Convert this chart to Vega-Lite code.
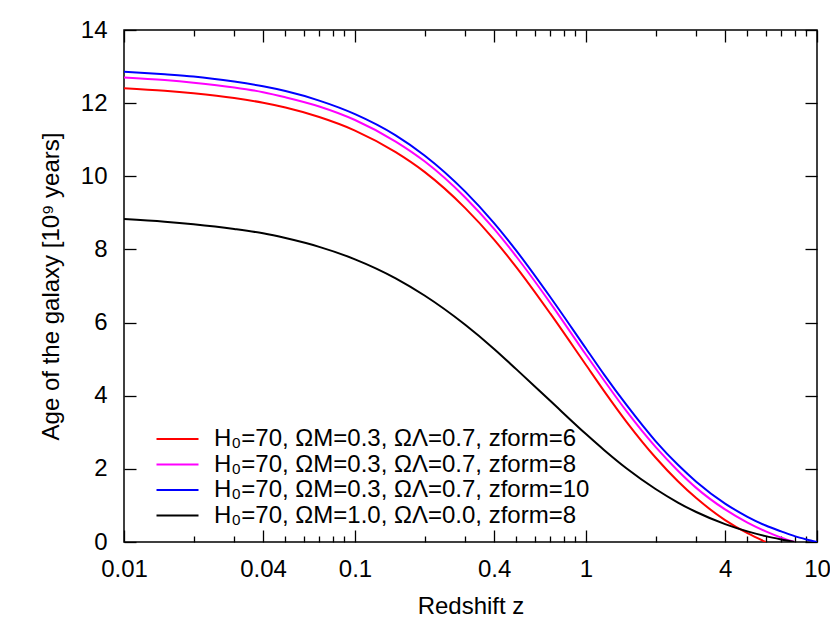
{
  "$schema": "https://vega.github.io/schema/vega-lite/v6.json",
  "width": 693,
  "height": 512,
  "autosize": {"type": "none"},
  "padding": {"left": 124, "top": 30, "right": 13, "bottom": 83},
  "background": "white",
  "datasets": {
    "d": [
      {"z":0.01,"a":12.41,"s":"6"},{"z":0.015,"a":12.34,"s":"6"},{"z":0.02,"a":12.27,"s":"6"},{"z":0.03,"a":12.14,"s":"6"},{"z":0.04,"a":12.01,"s":"6"},{"z":0.05,"a":11.88,"s":"6"},{"z":0.07,"a":11.62,"s":"6"},{"z":0.1,"a":11.25,"s":"6"},{"z":0.15,"a":10.66,"s":"6"},{"z":0.2,"a":10.12,"s":"6"},{"z":0.3,"a":9.13,"s":"6"},{"z":0.4,"a":8.27,"s":"6"},{"z":0.5,"a":7.51,"s":"6"},{"z":0.7,"a":6.25,"s":"6"},{"z":1,"a":4.84,"s":"6"},{"z":1.2,"a":4.12,"s":"6"},{"z":1.5,"a":3.28,"s":"6"},{"z":2,"a":2.31,"s":"6"},{"z":2.5,"a":1.66,"s":"6"},{"z":3,"a":1.20,"s":"6"},{"z":4,"a":0.60,"s":"6"},{"z":5,"a":0.24,"s":"6"},{"z":6,"a":0,"s":"6"},
      {"z":0.01,"a":12.70,"s":"8"},{"z":0.015,"a":12.63,"s":"8"},{"z":0.02,"a":12.56,"s":"8"},{"z":0.03,"a":12.43,"s":"8"},{"z":0.04,"a":12.30,"s":"8"},{"z":0.05,"a":12.16,"s":"8"},{"z":0.07,"a":11.91,"s":"8"},{"z":0.1,"a":11.54,"s":"8"},{"z":0.15,"a":10.95,"s":"8"},{"z":0.2,"a":10.41,"s":"8"},{"z":0.3,"a":9.42,"s":"8"},{"z":0.4,"a":8.56,"s":"8"},{"z":0.5,"a":7.80,"s":"8"},{"z":0.7,"a":6.54,"s":"8"},{"z":1,"a":5.12,"s":"8"},{"z":1.2,"a":4.41,"s":"8"},{"z":1.5,"a":3.57,"s":"8"},{"z":2,"a":2.60,"s":"8"},{"z":2.5,"a":1.95,"s":"8"},{"z":3,"a":1.48,"s":"8"},{"z":4,"a":0.89,"s":"8"},{"z":5,"a":0.53,"s":"8"},{"z":6,"a":0.29,"s":"8"},{"z":7,"a":0.12,"s":"8"},{"z":8,"a":0,"s":"8"},
      {"z":0.01,"a":12.86,"s":"10"},{"z":0.015,"a":12.79,"s":"10"},{"z":0.02,"a":12.73,"s":"10"},{"z":0.03,"a":12.59,"s":"10"},{"z":0.04,"a":12.46,"s":"10"},{"z":0.05,"a":12.33,"s":"10"},{"z":0.07,"a":12.07,"s":"10"},{"z":0.1,"a":11.70,"s":"10"},{"z":0.15,"a":11.12,"s":"10"},{"z":0.2,"a":10.57,"s":"10"},{"z":0.3,"a":9.58,"s":"10"},{"z":0.4,"a":8.72,"s":"10"},{"z":0.5,"a":7.96,"s":"10"},{"z":0.7,"a":6.70,"s":"10"},{"z":1,"a":5.29,"s":"10"},{"z":1.2,"a":4.57,"s":"10"},{"z":1.5,"a":3.74,"s":"10"},{"z":2,"a":2.76,"s":"10"},{"z":2.5,"a":2.11,"s":"10"},{"z":3,"a":1.65,"s":"10"},{"z":4,"a":1.05,"s":"10"},{"z":5,"a":0.69,"s":"10"},{"z":6,"a":0.45,"s":"10"},{"z":7,"a":0.29,"s":"10"},{"z":8,"a":0.16,"s":"10"},{"z":9,"a":0.07,"s":"10"},{"z":10,"a":0,"s":"10"},
      {"z":0.01,"a":8.83,"s":"EdS"},{"z":0.015,"a":8.76,"s":"EdS"},{"z":0.02,"a":8.69,"s":"EdS"},{"z":0.03,"a":8.56,"s":"EdS"},{"z":0.04,"a":8.44,"s":"EdS"},{"z":0.05,"a":8.31,"s":"EdS"},{"z":0.07,"a":8.07,"s":"EdS"},{"z":0.1,"a":7.73,"s":"EdS"},{"z":0.15,"a":7.21,"s":"EdS"},{"z":0.2,"a":6.74,"s":"EdS"},{"z":0.3,"a":5.94,"s":"EdS"},{"z":0.4,"a":5.28,"s":"EdS"},{"z":0.5,"a":4.72,"s":"EdS"},{"z":0.7,"a":3.86,"s":"EdS"},{"z":1,"a":2.95,"s":"EdS"},{"z":1.2,"a":2.51,"s":"EdS"},{"z":1.5,"a":2.01,"s":"EdS"},{"z":2,"a":1.45,"s":"EdS"},{"z":2.5,"a":1.08,"s":"EdS"},{"z":3,"a":0.82,"s":"EdS"},{"z":4,"a":0.49,"s":"EdS"},{"z":5,"a":0.29,"s":"EdS"},{"z":6,"a":0.16,"s":"EdS"},{"z":7,"a":0.07,"s":"EdS"},{"z":8,"a":0,"s":"EdS"}
    ]
  },
  "data": {"name": "d"},
  "config": {
    "view": {"stroke": "black", "strokeWidth": 1.5},
    "font": "Liberation Sans",
    "axis": {
      "domain": false,
      "grid": false,
      "tickColor": "black",
      "tickWidth": 1.3,
      "labelColor": "black",
      "labelFont": "Liberation Sans",
      "labelFontSize": 24,
      "titleFont": "Liberation Sans",
      "titleFontSize": 24,
      "titleFontWeight": "normal",
      "titleColor": "black"
    }
  },
  "layer": [
    {
      "mark": {"type": "line", "strokeWidth": 2, "interpolate": "monotone", "clip": true},
      "encoding": {
        "x": {"field": "z", "type": "quantitative",
          "scale": {"type": "log", "domain": [0.01, 10], "nice": false},
          "axis": {"orient": "bottom", "values": [0.01, 0.04, 0.1, 0.4, 1, 4, 10], "format": "~g", "tickSize": -12, "labelPadding": 27, "labelFlush": false, "labelOverlap": false, "title": "Redshift z", "titlePadding": 13}},
        "y": {"field": "a", "type": "quantitative",
          "scale": {"domain": [0, 14], "nice": false, "zero": true},
          "axis": {"orient": "left", "values": [0, 2, 4, 6, 8, 10, 12, 14], "tickSize": -12, "labelPadding": 29, "title": "Age of the galaxy [10⁹ years]", "titlePadding": 17}},
        "color": {"field": "s", "type": "nominal",
          "scale": {"domain": ["6", "8", "10", "EdS"], "range": ["#ff0000", "#ff00ff", "#0000ff", "#000000"]},
          "legend": {
            "orient": "none", "legendX": 41.5, "legendY": 397, "title": null,
            "symbolType": "M-2,0H2", "symbolSize": 441, "symbolStrokeWidth": 2,
            "labelOffset": 24.5, "labelFontSize": 24, "labelFont": "Liberation Sans", "labelColor": "black",
            "rowPadding": 1.5, "padding": 0, "labelLimit": 700,
            "labelExpr": "datum.value == 'EdS' ? 'H₀=70, ΩM=1.0, ΩΛ=0.0, zform=8' : 'H₀=70, ΩM=0.3, ΩΛ=0.7, zform=' + datum.value"
          }}
      }
    },
    {
      "mark": {"type": "line", "opacity": 0},
      "encoding": {
        "x": {"field": "z", "type": "quantitative",
          "axis": {"orient": "bottom", "values": [0.02, 0.03, 0.05, 0.06, 0.07, 0.08, 0.09, 0.2, 0.3, 0.5, 0.6, 0.7, 0.8, 0.9, 2, 3, 5, 6, 7, 8, 9], "labels": false, "tickSize": -6, "title": null}},
        "y": {"field": "a", "type": "quantitative", "axis": null}
      }
    },
    {
      "mark": {"type": "line", "opacity": 0},
      "encoding": {
        "x": {"field": "z", "type": "quantitative",
          "axis": {"orient": "top", "values": [0.01, 0.04, 0.1, 0.4, 1, 4, 10], "labels": false, "tickSize": -12, "title": null}},
        "y": {"field": "a", "type": "quantitative", "axis": null}
      }
    },
    {
      "mark": {"type": "line", "opacity": 0},
      "encoding": {
        "x": {"field": "z", "type": "quantitative",
          "axis": {"orient": "top", "values": [0.02, 0.03, 0.05, 0.06, 0.07, 0.08, 0.09, 0.2, 0.3, 0.5, 0.6, 0.7, 0.8, 0.9, 2, 3, 5, 6, 7, 8, 9], "labels": false, "tickSize": -6, "title": null}},
        "y": {"field": "a", "type": "quantitative", "axis": null}
      }
    },
    {
      "mark": {"type": "line", "opacity": 0},
      "encoding": {
        "x": {"field": "z", "type": "quantitative", "axis": null},
        "y": {"field": "a", "type": "quantitative",
          "axis": {"orient": "right", "values": [0, 2, 4, 6, 8, 10, 12, 14], "labels": false, "tickSize": -12, "title": null}}
      }
    }
  ],
  "resolve": {"axis": {"x": "independent", "y": "independent"}}
}
